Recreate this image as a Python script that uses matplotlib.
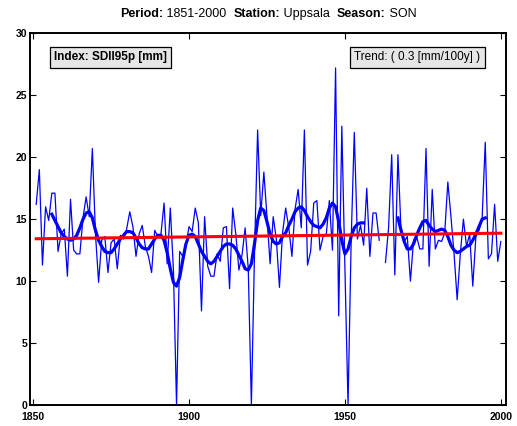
import numpy as np
import matplotlib
matplotlib.use("Agg")
import matplotlib.pyplot as plt

plt.rcParams['font.family'] = ['Liberation Sans', 'DejaVu Sans']

# ===============================
# data
# ===============================

years = np.arange(1851, 2001)

index_vals = [
    16.2, 19.0, 11.3, 16.0, 14.9, 17.1, 17.1, 12.4, 13.8, 14.2,   # 1851-1860
    10.4, 16.6, 12.5, 12.2, 12.2, 15.1, 16.8, 15.2, 20.7, 13.8,   # 1861-1870
    9.9, 13.3, 13.6, 10.7, 13.1, 13.4, 11.0, 13.7, 13.4, 14.2,    # 1871-1880
    15.6, 14.4, 12.0, 13.8, 14.5, 12.8, 12.0, 10.7, 14.1, 13.6,   # 1881-1890
    13.8, 16.3, 11.4, 15.9, 10.9, 0.0, 12.4, 12.0, 12.9, 14.4,    # 1891-1900
    14.0, 15.9, 14.7, 7.6, 15.2, 11.2, 10.4, 10.4, 12.2, 11.6,    # 1901-1910
    14.3, 14.4, 9.4, 15.9, 13.8, 10.9, 12.1, 14.3, 11.0, 0.0,     # 1911-1920
    12.2, 22.2, 15.3, 18.8, 15.2, 11.4, 15.2, 13.4, 9.5, 13.9,    # 1921-1930
    15.9, 14.3, 12.0, 15.8, 17.4, 14.3, 22.2, 11.3, 12.4, 16.3,   # 1931-1940
    16.5, 12.5, 13.6, 13.7, 16.5, 12.5, 27.2, 7.2, 22.5, 11.0,    # 1941-1950
    0.0, 13.3, 22.0, 13.4, 14.5, 12.9, 17.5, 12.0, 15.5, 15.5,    # 1951-1960
    13.3, np.nan, 11.5, 14.3, 20.2, 10.5, 20.2, 14.0, 13.2, 13.6, # 1961-1970
    10.0, 13.3, 13.6, 12.6, 12.6, 20.7, 11.2, 17.4, 12.6, 13.3,   # 1971-1980
    13.2, 13.9, 18.0, 15.2, 12.2, 8.5, 12.2, 15.0, 12.8, 13.8,    # 1981-1990
    9.6, 13.6, 14.1, 15.1, 21.2, 11.8, 12.2, 16.2, 11.6, 13.2,    # 1991-2000
]

smooth_years_a = np.arange(1856, 1957)
smooth_vals_a = [
    15.4, 14.9, 14.4, 13.9, 13.6, 13.4, 13.3, 13.4, 13.7, 14.3,   # 1856-1865
    15.0, 15.5, 15.6, 15.1, 14.1, 13.3, 12.8, 12.4, 12.3, 12.3,   # 1866-1875
    12.6, 13.0, 13.4, 13.7, 14.0, 14.0, 13.9, 13.5, 13.0, 12.7,   # 1876-1885
    12.6, 12.6, 13.0, 13.4, 13.7, 13.7, 13.3, 12.3, 11.0, 9.9,    # 1886-1895
    9.6, 10.3, 11.7, 13.0, 13.7, 13.8, 13.6, 13.0, 12.4, 12.0,    # 1896-1905
    11.6, 11.4, 11.6, 12.0, 12.4, 12.8, 13.0, 13.0, 12.9, 12.6,   # 1906-1915
    12.1, 11.6, 11.0, 10.9, 11.4, 13.0, 14.9, 15.9, 15.7, 14.8,   # 1916-1925
    13.8, 13.2, 13.0, 13.1, 13.6, 13.9, 14.5, 15.0, 15.6, 15.9,   # 1926-1935
    16.0, 15.7, 15.2, 14.8, 14.5, 14.4, 14.3, 14.6, 15.1, 15.9,   # 1936-1945
    16.3, 16.0, 14.8, 13.3, 12.2, 12.6, 13.6, 14.3, 14.6, 14.7,   # 1946-1955
    14.7,                                                         # 1956
]

smooth_years_b = np.arange(1967, 1996)
smooth_vals_b = [
    15.1, 14.1, 13.2, 12.6, 12.6, 13.0, 13.7, 14.3, 14.8, 14.9,   # 1967-1976
    14.5, 14.2, 14.0, 14.1, 14.2, 14.1, 13.6, 12.9, 12.5, 12.3,   # 1977-1986
    12.4, 12.6, 12.8, 12.9, 13.3, 13.8, 14.4, 15.0, 15.1,         # 1987-1995
]

trend_years = [1851, 2000]
trend_vals = [13.42, 13.87]

xticks = [1850, 1900, 1950, 2000]
yticks = [0, 5, 10, 15, 20, 25, 30]

title_parts = [("Period:", 'bold'), (" 1851-2000  ", 'normal'),
               ("Station:", 'bold'), (" Uppsala  ", 'normal'),
               ("Season:", 'bold'), (" SON", 'normal')]

# ===============================
# figure
# ===============================

fig = plt.figure(figsize=(5.17, 4.26), dpi=100)
ax = fig.add_axes([0.058, 0.049, 0.921, 0.873])

ax.plot(years, index_vals, color='#0000ff', lw=0.9)
ax.plot(smooth_years_a, smooth_vals_a, color='#0000ff', lw=2.3)
ax.plot(smooth_years_b, smooth_vals_b, color='#0000ff', lw=2.3)
ax.plot(trend_years, trend_vals, color='#ff0000', lw=2.2)

ax.set_xlim(1849, 2001.7)
ax.set_ylim(0, 30)
ax.set_xticks(xticks)
ax.set_yticks(yticks)
ax.tick_params(direction='in', top=True, right=True, length=4, width=0.8,
               labelsize=7.5)
ax.tick_params(axis='x', pad=5)
ax.tick_params(axis='y', pad=2)
for lab in ax.get_xticklabels() + ax.get_yticklabels():
    lab.set_fontweight('bold')
for sp in ax.spines.values():
    sp.set_linewidth(1.4)

# title built from bold / normal pieces, centred over the axes
fig.canvas.draw()
renderer = fig.canvas.get_renderer()
pieces = []
total = 0
for txt, w in title_parts:
    t = fig.text(0, 0.967, txt, fontsize=9, fontweight=w, va='center', ha='left')
    width = t.get_window_extent(renderer).width
    pieces.append((t, width))
    total += width
x0 = 268 - total / 2
for t, width in pieces:
    t.set_x(x0 / fig.bbox.width)
    x0 += width

box = dict(boxstyle='square,pad=0.35', facecolor='#e6e6e6', edgecolor='black', lw=0.9)
ax.text(0.05, 0.935, "Index: SDII95p [mm]", transform=ax.transAxes,
        fontsize=8.5, fontweight='bold', va='center', ha='left', bbox=box)
ax.text(0.946, 0.935, "Trend: ( 0.3 [mm/100y] )", transform=ax.transAxes,
        fontsize=8.5, va='center', ha='right', bbox=box)

fig.savefig("out.png", dpi=100)
